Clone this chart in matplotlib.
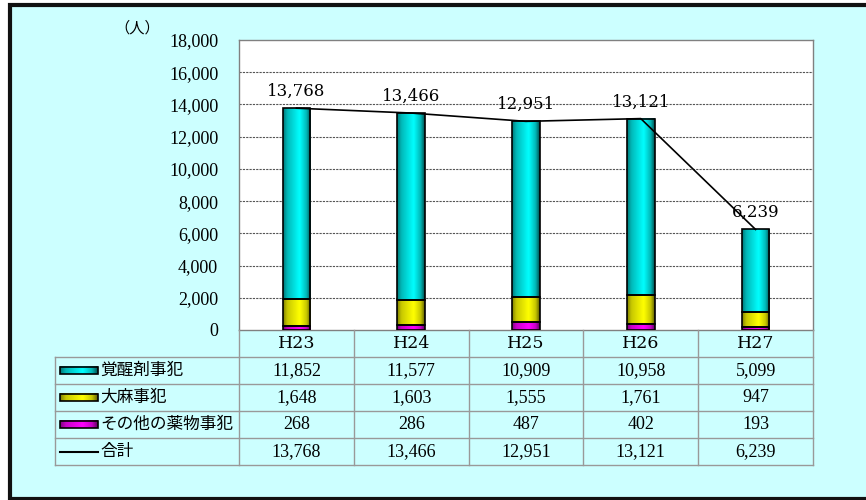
import numpy as np
import matplotlib
matplotlib.use('Agg')
import matplotlib.pyplot as plt
from matplotlib.patches import Rectangle
from matplotlib.colors import LinearSegmentedColormap

# データ
categories = ['H23', 'H24', 'H25', 'H26', 'H27']
kakuseizai = [11852, 11577, 10909, 10958, 5099]
taima = [1648, 1603, 1555, 1761, 947]
sonota = [268, 286, 487, 402, 193]
goukei = [13768, 13466, 12951, 13121, 6239]
row_labels = ['覚醒剤事犯', '大麻事犯', 'その他の薬物事犯', '合計']

BG = '#CCFFFF'
W, H = 866, 500
JP = ['Noto Sans CJK JP', 'DejaVu Sans']

# 円柱風のグラデーション
def grad_cmap(c):
    return LinearSegmentedColormap.from_list('', [(0, c[0]), (0.15, c[1]), (0.6, c[2]), (0.85, c[1]), (1, c[3])])

cm_cyan = grad_cmap(['#007878', '#00B8B8', '#00FFFF', '#005050'])
cm_yel = grad_cmap(['#808000', '#C8C800', '#FFFF00', '#606000'])
cm_mag = grad_cmap(['#800080', '#C800C8', '#FF00FF', '#600060'])
grad = np.linspace(0, 1, 64).reshape(1, -1)

fig = plt.figure(figsize=(W / 100, H / 100), dpi=100, facecolor='white')
fig.patches.append(Rectangle((10 / W, 1.5 / H), 1.0, 494 / H, transform=fig.transFigure,
                             facecolor=BG, edgecolor='#111111', lw=3, zorder=-5))

# グラフ本体
ax = fig.add_axes([239 / W, 170 / H, 574 / W, 290 / H])
ax.set_facecolor('white')
w = 0.24
x = np.arange(len(categories))
for i in x:
    bottom = 0
    for vals, cmap in [(sonota, cm_mag), (taima, cm_yel), (kakuseizai, cm_cyan)]:
        v = vals[i]
        ax.imshow(grad, extent=[i - w / 2, i + w / 2, bottom, bottom + v], cmap=cmap,
                  aspect='auto', interpolation='bicubic', zorder=2)
        ax.add_patch(Rectangle((i - w / 2, bottom), w, v, fill=False, edgecolor='black', lw=1.2, zorder=3))
        bottom += v

ax.plot(x, goukei, color='black', lw=1.2, zorder=4)
for i, v in enumerate(goukei):
    ax.annotate(f'{v:,}', (i, v), xytext=(0, 12), textcoords='offset points',
                ha='center', va='center', fontsize=12, family='DejaVu Serif', zorder=5)

ax.set_xlim(-0.5, 4.5)
ax.set_ylim(0, 18000)
ax.set_yticks(range(0, 18001, 2000))
ax.set_yticklabels([f'{t:,}' for t in range(0, 18001, 2000)], family='Liberation Serif', fontsize=13)
ax.tick_params(axis='y', length=0, pad=15)
ax.set_xticks([])
for yv in range(2000, 18000, 2000):
    ax.axhline(yv, color='#555555', lw=0.8, ls=(0, (2, 1)), zorder=1)
for s in ax.spines.values():
    s.set_color('#808080')
    s.set_linewidth(1)

fig.text(137 / W, 1 - 28 / H, '（人）', ha='center', va='center', fontsize=11, family=JP)

# データテーブル
tx = fig.add_axes([55 / W, 35 / H, 758 / W, 135 / H])
tx.set_xlim(-2.103, 4.5)
tx.set_ylim(5, 0)
tx.axis('off')
lc = '#999999'
for r in range(1, 6):
    tx.plot([-2.103, 4.5], [r, r], color=lc, lw=1, clip_on=False)
tx.plot([-2.103, -2.103], [1, 5], color=lc, lw=1, clip_on=False)
for c in np.arange(-0.5, 4.6, 1):
    tx.plot([c, c], [0, 5], color=lc, lw=1, clip_on=False)

for i, cat in enumerate(categories):
    tx.text(i, 0.5, cat, ha='center', va='center', fontsize=12.5, family='DejaVu Serif')
table_rows = [kakuseizai, taima, sonota, goukei]
for r, vals in enumerate(table_rows):
    for i, v in enumerate(vals):
        tx.text(i, r + 1.5, f'{v:,}', ha='center', va='center', fontsize=13, family='Liberation Serif')

key_x0, key_x1 = -2.059, -1.728
for r, cmap in enumerate([cm_cyan, cm_yel, cm_mag]):
    yc = r + 1.5
    tx.imshow(grad, extent=[key_x0, key_x1, yc + 0.13, yc - 0.13], cmap=cmap, aspect='auto', interpolation='bicubic')
    tx.add_patch(Rectangle((key_x0, yc - 0.13), key_x1 - key_x0, 0.26, fill=False, edgecolor='black', lw=1.2))
tx.plot([key_x0, key_x1], [4.5, 4.5], color='black', lw=1.5)
tx.set_xlim(-2.103, 4.5)
tx.set_ylim(5, 0)
for r, lab in enumerate(row_labels):
    tx.text(-1.71, r + 1.5, lab, ha='left', va='center', fontsize=12, family=JP)

fig.savefig('out.png', dpi=100, facecolor='white')
